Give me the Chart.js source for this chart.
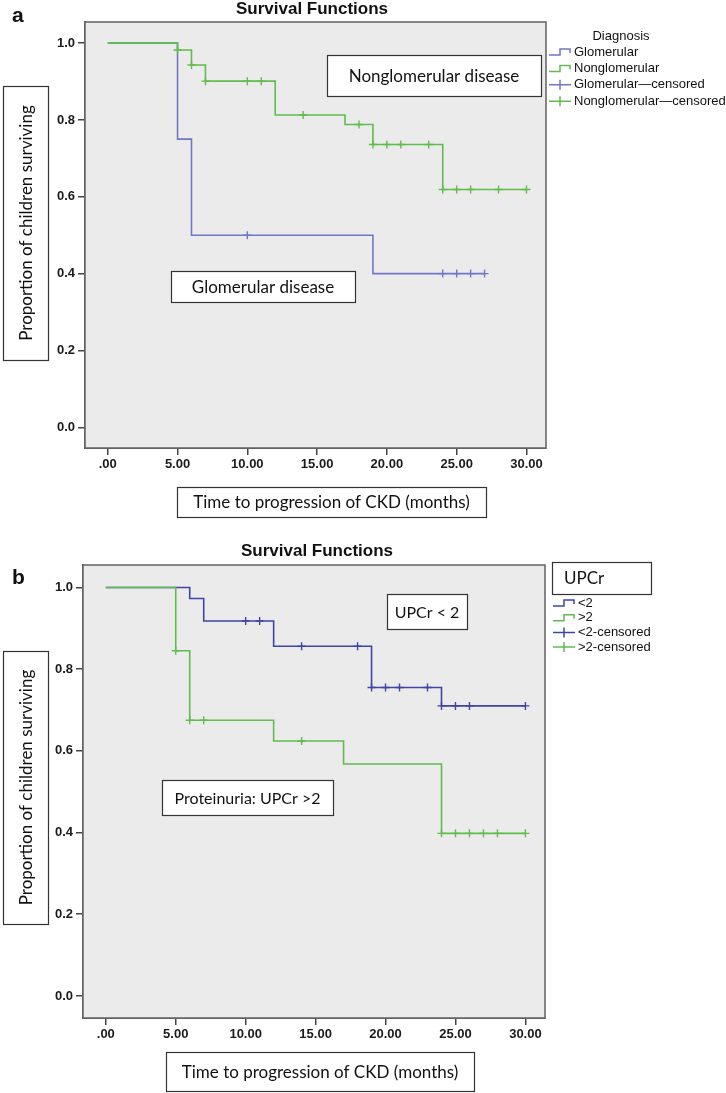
<!DOCTYPE html>
<html>
<head>
<meta charset="utf-8">
<script src="https://cdn.jsdelivr.net/npm/chart.js@4.4.0/dist/chart.umd.min.js"></script>
<style>
body { margin: 0; background: #fff; }
#wrap { position: relative; width: 726px; height: 1093px; }
canvas { position: absolute; left: 0; top: 0; }
</style>
</head>
<body>
<div id="wrap">
  <canvas id="chartA" width="726" height="1093"></canvas>
  <canvas id="chartB" width="726" height="1093"></canvas>
</div>
<script>
// axis ticks (months, proportion)
var xTicks = [0, 5, 10, 15, 20, 25, 30];
var xTickLabels = ['.00', '5.00', '10.00', '15.00', '20.00', '25.00', '30.00'];
var yTicks = [0, 0.2, 0.4, 0.6, 0.8, 1.0];
var yTickLabels = ['0.0', '0.2', '0.4', '0.6', '0.8', '1.0'];

// panel a - diagnosis
var namesA = ['Glomerular', 'Nonglomerular', 'Glomerular\u2014censored', 'Nonglomerular\u2014censored'];
var glomTime = [0, 5, 6, 19, 27];
var glomSurv = [1, 0.75, 0.5, 0.4, 0.4];
var glomCensTime = [10, 24, 25, 26, 27];
var glomCensSurv = [0.5, 0.4, 0.4, 0.4, 0.4];
var nonglomTime = [0, 5, 6, 7, 12, 17, 19, 24, 30];
var nonglomSurv = [1, 0.982, 0.943, 0.901, 0.813, 0.788, 0.736, 0.619, 0.619];
var nonglomCensTime = [5, 6, 7, 10, 11, 14, 18, 19, 20, 21, 23, 24, 25, 26, 28, 30];
var nonglomCensSurv = [0.982, 0.943, 0.901, 0.901, 0.901, 0.813, 0.788, 0.736, 0.736, 0.736, 0.736, 0.619, 0.619, 0.619, 0.619, 0.619];

// panel b - UPCr
var namesB = ['<2', '>2', '<2-censored', '>2-censored'];
var lowTime = [0, 6, 7, 12, 19, 24, 30];
var lowSurv = [1, 0.973, 0.918, 0.856, 0.755, 0.71, 0.71];
var lowCensTime = [10, 11, 14, 18, 19, 20, 21, 23, 24, 25, 26, 30];
var lowCensSurv = [0.918, 0.918, 0.856, 0.856, 0.755, 0.755, 0.755, 0.755, 0.71, 0.71, 0.71, 0.71];
var highTime = [0, 5, 6, 12, 17, 24, 30];
var highSurv = [1, 0.845, 0.675, 0.624, 0.568, 0.398, 0.398];
var highCensTime = [5, 6, 7, 14, 24, 25, 26, 27, 28, 30];
var highCensSurv = [0.845, 0.675, 0.675, 0.624, 0.398, 0.398, 0.398, 0.398, 0.398, 0.398];

var BOXFONT = 'Lato, "Open Sans", sans-serif';
var ARIAL = '"Liberation Sans", Arial, sans-serif';

function pts(xs, ys) {
    return xs.map(function (x, i) { return { x: x, y: ys[i] }; });
}

function stepSet(xs, ys, color, order) {
    return { data: pts(xs, ys), showLine: true, stepped: true, borderColor: color, borderWidth: 1.6, pointRadius: 0, fill: false, order: order };
}

function censSet(xs, ys, color, order) {
    return { data: pts(xs, ys), showLine: false, pointStyle: 'cross', pointRadius: 4, borderColor: color, borderWidth: 1.4, order: order };
}

function boxText(ctx, b) {
    ctx.save();
    ctx.fillStyle = '#fff';
    ctx.fillRect(b.x, b.y, b.w, b.h);
    ctx.strokeStyle = '#333';
    ctx.lineWidth = 1.2;
    ctx.strokeRect(b.x + 0.5, b.y + 0.5, b.w, b.h);
    ctx.fillStyle = '#111';
    ctx.font = b.size + 'px ' + BOXFONT;
    ctx.textBaseline = 'middle';
    if (b.rotate) {
        ctx.translate(b.x + b.w / 2, b.y + b.h / 2);
        ctx.rotate(-Math.PI / 2);
        ctx.textAlign = 'center';
        ctx.fillText(b.text, 0, 1);
    } else if (b.tx !== undefined) {
        ctx.textAlign = 'left';
        ctx.fillText(b.text, b.tx, b.y + b.h / 2 + 1);
    } else {
        ctx.textAlign = 'center';
        ctx.fillText(b.text, b.x + b.w / 2, b.y + b.h / 2 + 1);
    }
    ctx.restore();
}

function legendSymbol(ctx, kind, x, y, color) {
    ctx.save();
    ctx.strokeStyle = color;
    ctx.lineWidth = 1.5;
    ctx.beginPath();
    if (kind == 'step') {
        ctx.moveTo(x, y + 3);
        ctx.lineTo(x + 11, y + 3);
        ctx.lineTo(x + 11, y - 3);
        ctx.lineTo(x + 21, y - 3);
        ctx.lineTo(x + 21, y + 1);
    } else {
        ctx.moveTo(x, y);
        ctx.lineTo(x + 22, y);
        ctx.moveTo(x + 11, y - 5);
        ctx.lineTo(x + 11, y + 5);
    }
    ctx.stroke();
    ctx.restore();
}

var decorPlugin = {
    id: 'decor',
    beforeDatasetsDraw: function (chart) {
        var a = chart.chartArea, ctx = chart.ctx;
        ctx.save();
        ctx.fillStyle = '#ebebeb';
        ctx.fillRect(a.left, a.top, a.right - a.left, a.bottom - a.top);
        ctx.strokeStyle = '#6b6b6b';
        ctx.lineWidth = 1.6;
        ctx.strokeRect(a.left, a.top, a.right - a.left, a.bottom - a.top);
        ctx.restore();
    },
    afterDraw: function (chart) {
        var d = chart.options.plugins.decor, ctx = chart.ctx;
        ctx.save();
        ctx.fillStyle = '#111';
        ctx.textAlign = 'center';
        ctx.textBaseline = 'middle';
        ctx.font = 'bold 17px ' + ARIAL;
        ctx.fillText('Survival Functions', d.titleX, d.titleY);
        ctx.textAlign = 'left';
        ctx.font = 'bold 21px ' + ARIAL;
        ctx.fillText(d.letter, d.letterX, d.letterY);
        ctx.restore();
        d.boxes.forEach(function (b) { boxText(ctx, b); });
        if (d.legendTitle) {
            ctx.save();
            ctx.fillStyle = '#111';
            ctx.font = '13px ' + ARIAL;
            ctx.textAlign = 'center';
            ctx.textBaseline = 'middle';
            ctx.fillText(d.legendTitle, d.legendTitleX, d.legendTitleY);
            ctx.restore();
        }
        d.legend.forEach(function (it, i) {
            var y = d.legendY + i * d.legendGap;
            legendSymbol(ctx, it.kind, d.legendX, y, it.color);
            ctx.save();
            ctx.fillStyle = '#111';
            ctx.font = '13px ' + ARIAL;
            ctx.textAlign = 'left';
            ctx.textBaseline = 'middle';
            ctx.fillText(it.label, d.legendX + 25, y);
            ctx.restore();
        });
    }
};

function makeChart(id, datasets, pad, yWidth, decor) {
    return new Chart(document.getElementById(id), {
        type: 'scatter',
        data: { datasets: datasets },
        options: {
            responsive: false,
            animation: false,
            layout: { padding: pad },
            plugins: { legend: { display: false }, tooltip: { enabled: false }, decor: decor },
            scales: {
                x: {
                    type: 'linear', min: -1.63, max: 31.4,
                    afterBuildTicks: function (s) { s.ticks = xTicks.map(function (v) { return { value: v }; }); },
                    afterFit: function (s) { s.height = 30; },
                    ticks: {
                        padding: 2, color: '#1a1a1a', font: { family: ARIAL, size: 13, weight: 'bold' },
                        callback: function (v) { return xTickLabels[xTicks.indexOf(v)]; }
                    },
                    grid: { drawOnChartArea: false, drawTicks: true, tickLength: 7, color: '#444', lineWidth: 1.5 },
                    border: { display: true, color: '#444', width: 2 }
                },
                y: {
                    type: 'linear', min: -0.054, max: 1.055,
                    afterBuildTicks: function (s) { s.ticks = yTicks.map(function (v) { return { value: v }; }); },
                    afterFit: function (s) { s.width = yWidth; },
                    ticks: {
                        padding: 3, color: '#1a1a1a', font: { family: ARIAL, size: 13, weight: 'bold' },
                        callback: function (v) { return yTickLabels[yTicks.indexOf(v)]; }
                    },
                    grid: { drawOnChartArea: false, drawTicks: true, tickLength: 7, color: '#444', lineWidth: 1.5 },
                    border: { display: true, color: '#444', width: 2 }
                }
            }
        },
        plugins: [decorPlugin]
    });
}

var blueA = 'rgb(112,118,200)';
var blueB = 'rgb(62,68,168)';
var green = 'rgb(96,188,76)';

makeChart('chartA', [
    stepSet(nonglomTime, nonglomSurv, green, 1),
    stepSet(glomTime, glomSurv, blueA, 2),
    censSet(glomCensTime, glomCensSurv, blueA, 0),
    censSet(nonglomCensTime, nonglomCensSurv, green, 0)
], { left: 0, top: 22, right: 180, bottom: 1093 - 448 - 30 }, 85, {
    titleX: 312, titleY: 9, letter: 'a', letterX: 12, letterY: 16,
    boxes: [
        { x: 327, y: 55, w: 214, h: 41, text: 'Nonglomerular disease', size: 17 },
        { x: 171, y: 271, w: 184, h: 31, text: 'Glomerular disease', size: 17 },
        { x: 177, y: 487, w: 309, h: 30, text: 'Time to progression of CKD (months)', size: 17 },
        { x: 3, y: 86, w: 45, h: 274, text: 'Proportion of children surviving', size: 17, rotate: true }
    ],
    legendTitle: 'Diagnosis', legendTitleX: 621, legendTitleY: 36,
    legendX: 549, legendY: 52, legendGap: 16.4,
    legend: [
        { kind: 'step', label: namesA[0], color: blueA },
        { kind: 'step', label: namesA[1], color: green },
        { kind: 'cens', label: namesA[2], color: blueA },
        { kind: 'cens', label: namesA[3], color: green }
    ]
});

makeChart('chartB', [
    stepSet(highTime, highSurv, green, 1),
    stepSet(lowTime, lowSurv, blueB, 2),
    censSet(lowCensTime, lowCensSurv, blueB, 0),
    censSet(highCensTime, highCensSurv, green, 0)
], { left: 0, top: 565, right: 181, bottom: 1093 - 1018 - 30 }, 83, {
    titleX: 317, titleY: 551, letter: 'b', letterX: 12, letterY: 578,
    boxes: [
        { x: 387, y: 594, w: 80, h: 35, text: 'UPCr < 2', size: 16 },
        { x: 162, y: 780, w: 171, h: 35, text: 'Proteinuria: UPCr >2', size: 16 },
        { x: 166, y: 1052, w: 308, h: 39, text: 'Time to progression of CKD (months)', size: 17 },
        { x: 3, y: 651, w: 45, h: 273, text: 'Proportion of children surviving', size: 17, rotate: true },
        { x: 552, y: 562, w: 99, h: 32, text: 'UPCr', size: 17, tx: 564 }
    ],
    legendX: 553, legendY: 603, legendGap: 14.7,
    legend: [
        { kind: 'step', label: namesB[0], color: blueB },
        { kind: 'step', label: namesB[1], color: green },
        { kind: 'cens', label: namesB[2], color: blueB },
        { kind: 'cens', label: namesB[3], color: green }
    ]
});
</script>
</body>
</html>
